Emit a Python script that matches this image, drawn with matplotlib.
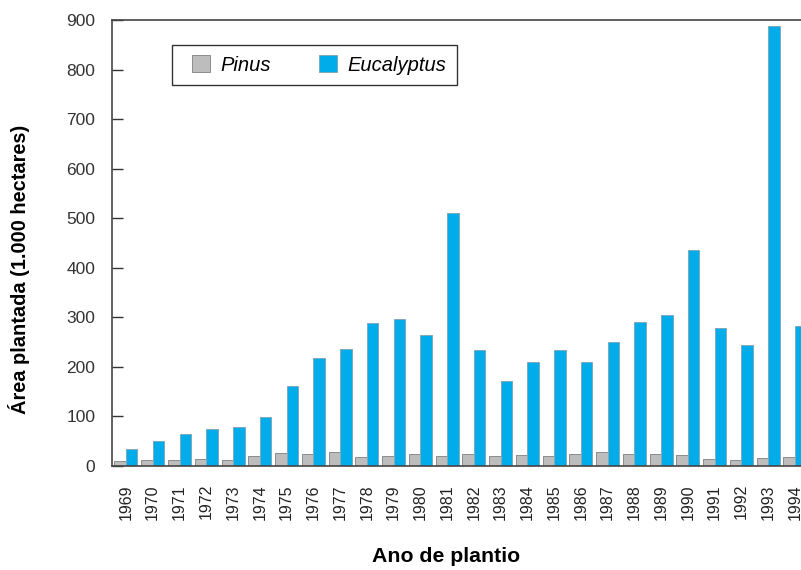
import numpy as np
import matplotlib.pyplot as plt
from matplotlib.patches import Rectangle

plt.rcParams['font.family'] = ['Liberation Sans', 'DejaVu Sans']

anos = [str(a) for a in range(1969, 1995)]
pinus = [11, 12, 12, 15, 13, 21, 26, 24, 28, 19, 21, 24, 20,
         24, 21, 23, 20, 24, 29, 25, 25, 23, 15, 13, 17, 19]
eucalyptus = [34, 50, 65, 75, 78, 99, 161, 218, 236, 288, 296, 264, 510,
              234, 171, 210, 234, 210, 250, 290, 304, 436, 278, 244, 888, 283]

x = np.arange(len(anos))
w = 0.43

fig = plt.figure(figsize=(8.01, 5.70), dpi=100)
ax = fig.add_axes([112/801, 104/570, 1 - 112/801, 446/570])

ax.bar(x - w/2, pinus, w, color='#bdbdbd', edgecolor='#8c8c8c', linewidth=0.7, label='Pinus')
ax.bar(x + w/2, eucalyptus, w, color='#00adea', edgecolor='#7fa9bd', linewidth=0.7, label='Eucalyptus')

ax.set_xlim(-0.523, 25.23)
ax.set_ylim(0, 900)
ax.set_yticks(range(0, 901, 100))
ax.set_xticks(x)
ax.set_xticklabels(anos, rotation=90, fontsize=11.5, color='#222222')
ax.tick_params(axis='x', length=0, pad=13)
ax.tick_params(axis='y', direction='in', length=8, width=1, pad=12,
               labelsize=12.5, colors='#333333')
ax.spines['right'].set_visible(False)
for s in ['left', 'top', 'bottom']:
    ax.spines[s].set_color('#444444')
    ax.spines[s].set_linewidth(1.2)

ax.set_ylabel('Área plantada (1.000 hectares)', fontsize=14.4, fontweight='bold')
ax.yaxis.set_label_coords(-0.1185, 0.44)
ax.set_xlabel('Ano de plantio', fontsize=15.3, fontweight='bold')
ax.xaxis.set_label_coords(0.485, -0.182)

# legend box drawn separately so the inner spacing matches
ax.add_patch(Rectangle((0.0871, 0.854), 0.4136, 0.090, transform=ax.transAxes,
                       fill=False, edgecolor='#333333', linewidth=1.0, zorder=5))
leg = ax.legend(loc='center left', bbox_to_anchor=(0.1161, 0.899), ncol=2,
                prop={'style': 'italic', 'size': 14.5}, frameon=False,
                handlelength=0.9, handleheight=0.9, columnspacing=2.4, borderpad=0,
                handletextpad=0.5, borderaxespad=0)

fig.savefig('out.png', dpi=100)
